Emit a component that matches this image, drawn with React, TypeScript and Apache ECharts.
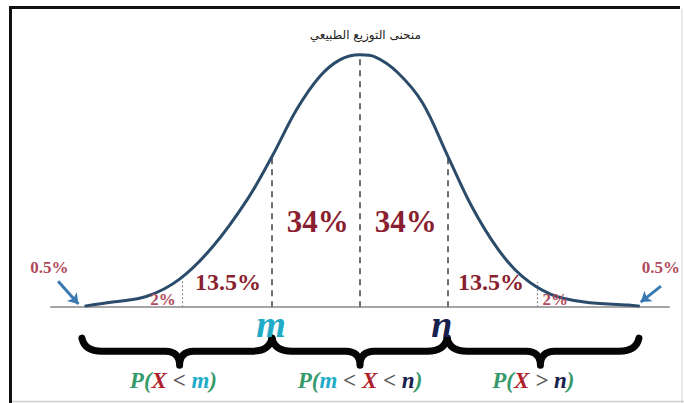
import React, { useEffect, useRef } from "react";
import * as echarts from "echarts";

// Normal curve (x in standard deviations, y relative to peak height)
const curveX = [-3.13, -2.81, -2.42, -2.05, -1.67, -1.28, -1.0, -0.72, -0.46, -0.23, 0, 0.17, 0.43, 0.71, 1.0, 1.27, 1.57, 1.84, 2.17, 2.55, 3.05, 3.18];
const curveY = [0.004, 0.02, 0.043, 0.111, 0.241, 0.427, 0.597, 0.783, 0.913, 0.98, 1.0, 0.992, 0.929, 0.81, 0.597, 0.399, 0.229, 0.123, 0.051, 0.02, 0.008, 0.004];

// Dividers
const dashedX = [-1, 0, 1];
const dashedTop = [0.597, 1.0, 0.597];
const dottedX = [-2.02, 2.01];
const dottedTop = [0.11, 0.1];

// Region percentage labels
const bigLabels = ["34%", "34%"];
const bigX = [-0.48, 0.52];
const midLabels = ["13.5%", "13.5%"];
const midX = [-1.5, 1.49];
const smallLabels = ["2%", "2%"];
const smallX = [-2.24, 2.22];
const tailLabels = ["0.5%", "0.5%"];
const tailX = [-3.53, 3.42];

// Tail arrows [fromX, fromY, toX, toY]
const arrows = [
  [-3.43, 0.103, -3.2, 0.012],
  [3.42, 0.083, 3.19, 0.02],
];

// Braces: interval start, end, tip
const braceStart = [-3.16, -1, 0.99];
const braceEnd = [-1, 0.99, 3.17];
const braceTip = [-2.05, 0, 2.05];

// Axis point labels
const pointLabels = ["m", "n"];
const pointX = [-1.01, 0.93];

// Probability labels under braces
const probLabels = [
  "{g|P(}{r|X}{k| < }{c|m}{g|)}",
  "{g|P(}{c|m}{k| < }{r|X}{k| < }{b|n}{g|)}",
  "{g|P(}{r|X}{k| > }{b|n}{g|)}",
];
const probX = [-2.12, 0, 1.97];

const title = "منحنى التوزيع الطبيعي";

const SERIF = "'Liberation Serif', 'DejaVu Serif', serif";
const RED = "#8a1f30";

function textSeries(points: number[][], texts: string[], label: any) {
  return {
    type: "scatter",
    silent: true,
    symbolSize: 1,
    itemStyle: { color: "transparent", opacity: 1 },
    z: 10,
    data: points.map((p, i) => ({ value: p, name: texts[i] })),
    label: {
      show: true,
      position: "inside",
      opacity: 1,
      formatter: (p: any) => p.name,
      ...label,
    },
  };
}

export default function App() {
  const ref = useRef<HTMLDivElement>(null);
  useEffect(() => {
    if (!ref.current) return;
    const chart = echarts.init(ref.current, undefined, { renderer: "svg" });
    const px = 88; // pixels per sd
    const py = 253; // pixels per unit height
    const PF = 23;
    const option: any = {
      animation: false,
      backgroundColor: "#ffffff",
      grid: { left: 360 - 3.6 * px, width: 7.2 * px, top: 308 - 1.2 * py, height: 1.58 * py },
      xAxis: { type: "value", min: -3.6, max: 3.6, show: false },
      yAxis: { type: "value", min: -0.38, max: 1.2, show: false },
      graphic: [
        { type: "line", shape: { x1: 10.5, y1: 6, x2: 10.5, y2: 403 }, style: { stroke: "#111", lineWidth: 3 } },
        { type: "line", shape: { x1: 9, y1: 7.5, x2: 680, y2: 7.5 }, style: { stroke: "#111", lineWidth: 3 } },
        { type: "line", shape: { x1: 682, y1: 9, x2: 682, y2: 403 }, style: { stroke: "#e2e2e2", lineWidth: 1.5 } },
        { type: "line", shape: { x1: 12, y1: 401.5, x2: 684, y2: 401.5 }, style: { stroke: "#cfcfcf", lineWidth: 1.5 } },
      ],
      series: [
        {
          type: "lines",
          coordinateSystem: "cartesian2d",
          silent: true,
          z: 1,
          lineStyle: { color: "#a6a6a6", width: 2, opacity: 1 },
          data: [{ coords: [[-3.52, 0], [3.52, 0]] }],
        },
        {
          type: "lines",
          coordinateSystem: "cartesian2d",
          silent: true,
          z: 2,
          lineStyle: { color: "#6f6f6f", width: 2, type: [6, 5], opacity: 1 },
          data: dashedX.map((x, i) => ({ coords: [[x, 0], [x, dashedTop[i]]] })),
        },
        {
          type: "lines",
          coordinateSystem: "cartesian2d",
          silent: true,
          z: 2,
          lineStyle: { color: "#8a8a8a", width: 1.2, type: [2, 2], opacity: 1 },
          data: dottedX.map((x, i) => ({ coords: [[x, 0], [x, dottedTop[i]]] })),
        },
        {
          type: "lines",
          coordinateSystem: "cartesian2d",
          silent: true,
          z: 4,
          symbol: ["none", "arrow"],
          symbolSize: 10,
          lineStyle: { color: "#3a78b2", width: 3, opacity: 1 },
          data: arrows.map((a) => ({ coords: [[a[0], a[1]], [a[2], a[3]]] })),
        },
        {
          type: "line",
          smooth: 0.35,
          symbol: "none",
          z: 5,
          lineStyle: { color: "#2a4b69", width: 3 },
          data: curveX.map((x, i) => [x, curveY[i]]),
        },
        {
          type: "custom",
          silent: true,
          z: 3,
          data: braceStart.map((s, i) => [s, braceEnd[i], braceTip[i]]),
          encode: { x: [0, 1, 2] },
          renderItem: (params: any, api: any) => {
            const a = api.coord([api.value(0), 0]);
            const b = api.coord([api.value(1), 0]);
            const m = api.coord([api.value(2), 0]);
            const x1 = a[0], x2 = b[0], xm = m[0];
            const base = a[1];
            const y0 = base + 31;
            const y1 = base + 44;
            const y2 = base + 58;
            const r = 20;
            const t = 14;
            const d = [
              `M ${x1} ${y0}`,
              `C ${x1 + 2} ${y1 - 4}, ${x1 + 8} ${y1}, ${x1 + r} ${y1}`,
              `L ${xm - t} ${y1}`,
              `C ${xm - 5} ${y1}, ${xm} ${y1 + 5}, ${xm} ${y2}`,
              `C ${xm} ${y1 + 5}, ${xm + 5} ${y1}, ${xm + t} ${y1}`,
              `L ${x2 - r} ${y1}`,
              `C ${x2 - 8} ${y1}, ${x2 - 2} ${y1 - 4}, ${x2} ${y0}`,
            ].join(" ");
            return {
              type: "path",
              shape: { pathData: d },
              style: { fill: "none", stroke: "#050505", lineWidth: 7, lineCap: "round", lineJoin: "round" },
            };
          },
        },
        textSeries([[0.06, 1.08]], [title], {
          fontFamily: "'DejaVu Sans', sans-serif",
          fontSize: 12,
          color: "#222",
        }),
        textSeries(bigX.map((x) => [x, 0.34]), bigLabels, {
          fontFamily: SERIF,
          fontSize: 31,
          fontWeight: "bold",
          color: RED,
        }),
        textSeries(midX.map((x) => [x, 0.099]), midLabels, {
          fontFamily: SERIF,
          fontSize: 24,
          fontWeight: "bold",
          color: RED,
        }),
        textSeries(smallX.map((x) => [x, 0.032]), smallLabels, {
          fontFamily: SERIF,
          fontSize: 17,
          fontWeight: "bold",
          color: "#b04a5a",
        }),
        textSeries(tailX.map((x) => [x, 0.158]), tailLabels, {
          fontFamily: SERIF,
          fontSize: 17,
          fontWeight: "bold",
          color: "#b04a5a",
        }),
        {
          ...textSeries(pointX.map((x) => [x, -0.066]), pointLabels, {
            fontFamily: SERIF,
            fontSize: 38,
            fontWeight: "bold",
            fontStyle: "italic",
          }),
          data: pointX.map((x, i) => ({
            value: [x, -0.066],
            name: pointLabels[i],
            label: { color: i === 0 ? "#22abc6" : "#17214d" },
          })),
        },
        textSeries(probX.map((x) => [x, -0.29]), probLabels, {
          fontFamily: SERIF,
          fontSize: PF,
          fontWeight: "bold",
          fontStyle: "italic",
          rich: {
            g: { color: "#36996a", fontFamily: SERIF, fontSize: PF, fontWeight: "bold", fontStyle: "italic" },
            r: { color: "#b0202a", fontFamily: SERIF, fontSize: PF, fontWeight: "bold", fontStyle: "italic" },
            k: { color: "#5a5a5a", fontFamily: SERIF, fontSize: PF, fontWeight: "bold" },
            c: { color: "#22abc6", fontFamily: SERIF, fontSize: PF, fontWeight: "bold", fontStyle: "italic" },
            b: { color: "#17214d", fontFamily: SERIF, fontSize: PF, fontWeight: "bold", fontStyle: "italic" },
          },
        }),
      ],
    };
    chart.setOption(option);
    return () => chart.dispose();
  }, []);
  return (
    <div
      ref={ref}
      style={{ position: "absolute", left: 0, top: 0, width: 684, height: 403 }}
    />
  );
}
